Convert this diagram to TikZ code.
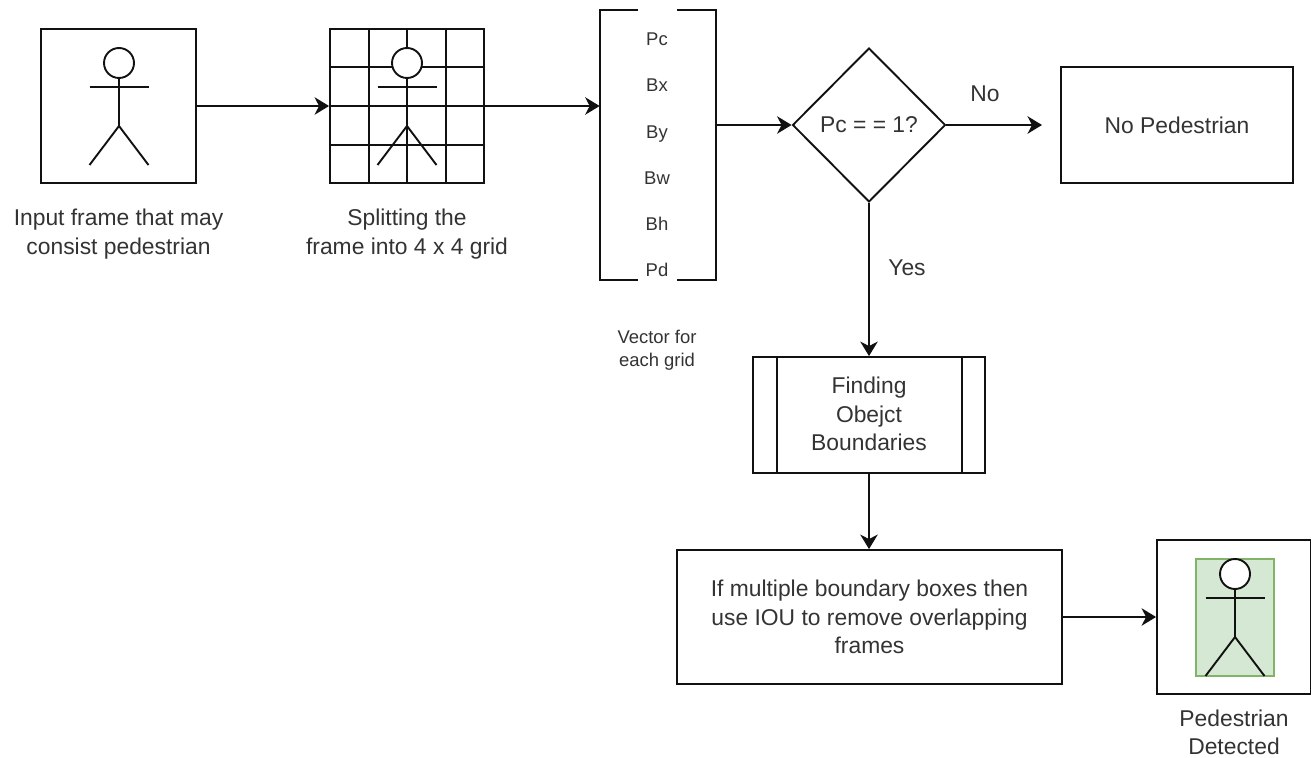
\documentclass[tikz,border=0pt]{standalone}
\usepackage{fontspec}
\setmainfont{Liberation Sans}
\usetikzlibrary{arrows.meta,shapes.geometric}
\definecolor{txt}{HTML}{333333}
\definecolor{ln}{HTML}{111111}
\definecolor{gfill}{HTML}{D5E8D4}
\definecolor{gline}{HTML}{82B366}
\tikzset{
  line/.style={draw=ln,line width=0.038cm},
  box/.style={line,rectangle,inner sep=0pt,align=center,text=txt,font=\fontsize{13pt}{16.1pt}\selectfont},
  lbl/.style={inner sep=0pt,align=center,text=txt,font=\fontsize{13pt}{16.1pt}\selectfont},
  small/.style={inner sep=0pt,align=center,text=txt,font=\fontsize{10.5pt}{13pt}\selectfont},
  vecitem/.style={small,text height=7.5pt,text depth=0pt},
  conn/.style={line,-{Stealth[length=0.29cm,width=0.35cm,inset=0.09cm]}},
  limb/.style={line,line cap=butt}
}
\newcommand{\stick}[3]{% name, centre x, top y
  \node[line,circle,fill=white,minimum size=0.6cm,inner sep=0pt] (h#1) at (#2,#3+15) {};
  \coordinate (a#1) at (#2-29.5,#3+39);
  \coordinate (b#1) at (#2+29.5,#3+39);
  \coordinate (d#1) at (#2,#3+78);
  \coordinate (e#1) at (#2-29.5,#3+117);
  \coordinate (f#1) at (#2+29.5,#3+117);
  \draw[limb] (h#1.south) -- (d#1);
  \draw[limb] (a#1) -- (b#1);
  \draw[limb] (e#1) -- (d#1) -- (f#1);
}
\begin{document}
\begin{tikzpicture}[x=0.02cm,y=-0.02cm]
\useasboundingbox (0,0) rectangle (1311,757);
% input frame
\node[box,minimum width=3.1cm,minimum height=3.08cm] (input) at (118.5,106) {};
\stick{one}{119}{48}
\node[lbl] (inputlbl) at (118.5,234) {Input frame that may\\consist pedestrian};
% grid
\node[box,minimum width=3.08cm,minimum height=3.08cm] (grid) at (407,106) {};
\foreach \g in {369,407,446} \draw[line] (\g,29) -- (\g,183);
\foreach \g in {67,106,145} \draw[line] (330,\g) -- (484,\g);
\stick{two}{407}{48}
\node[lbl] (gridlbl) at (407,234) {Splitting the\\frame into 4 x 4 grid};
% vector
\node[inner sep=0pt,minimum width=2.32cm,minimum height=5.4cm] (vec) at (658,145) {};
\draw[line] (638,10) -- (600,10) -- (600,280) -- (638,280);
\draw[line] (677,10) -- (716,10) -- (716,280) -- (677,280);
\node[vecitem] (pc) at (657,39) {Pc};
\node[vecitem] (bx) at (657,85) {Bx};
\node[vecitem] (by) at (657,132) {By};
\node[vecitem] (bw) at (657,178) {Bw};
\node[vecitem] (bh) at (657,224) {Bh};
\node[vecitem] (pd) at (657,270) {Pd};
\node[small] (veclbl) at (657,350) {Vector for\\each grid};
% decision
\node[line,diamond,aspect=1,inner sep=0pt,minimum width=3.06cm,minimum height=3.08cm,text=txt,font=\fontsize{13pt}{16pt}\selectfont] (dec) at (869,125) {Pc = = 1?};
\node[box,minimum width=4.64cm,minimum height=2.32cm] (nop) at (1177,125) {No Pedestrian};
\coordinate (noend) at (1042,125);
\node[lbl] (no) at (985,94) {No};
\node[lbl] (yes) at (907,268) {Yes};
% subprocess
\node[box,minimum width=4.64cm,minimum height=2.32cm] (sub) at (869,415) {};
\draw[line] (777,357) -- (777,473);
\draw[line] (962,357) -- (962,473);
\node[lbl] (subt) at (869,414) {Finding\\Obejct\\Boundaries};
% IOU
\node[box,minimum width=7.7cm,minimum height=2.68cm] (iou) at (869.5,617) {If multiple boundary boxes then\\use IOU to remove overlapping\\frames};
% detected
\node[box,minimum width=3.08cm,minimum height=3.08cm] (det) at (1234,617) {};
\node[draw=gline,line width=0.025cm,fill=gfill,inner sep=0pt,minimum width=1.56cm,minimum height=2.34cm] (hit) at (1235,617.5) {};
\stick{three}{1235}{559}
\node[lbl] (detlbl) at (1234,732.5) {Pedestrian\\Detected};
% connectors
\draw[conn] (input.east) -- (grid.west);
\draw[conn] (grid.east) -- (vec.west |- grid.east);
\draw[conn] (vec.east |- dec.west) -- (dec.west);
\draw[conn] (dec.east) -- (noend);
\draw[conn] (dec.south) -- (sub.north);
\draw[conn] (sub.south) -- (sub.south |- iou.north);
\draw[conn] (iou.east) -- (det.west);
\end{tikzpicture}
\end{document}
